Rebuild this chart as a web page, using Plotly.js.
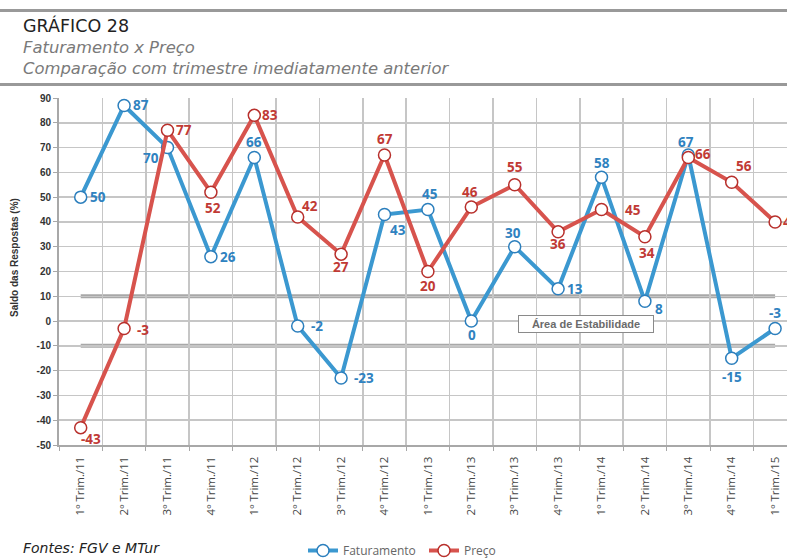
<!DOCTYPE html>
<html>
<head>
<meta charset="utf-8">
<script src="https://cdn.plot.ly/plotly-3.0.1.min.js"></script>
<style>
html,body{margin:0;padding:0;background:#fff;overflow:hidden;}
#chart{width:787px;height:558px;}
</style>
</head>
<body>
<div id="chart"></div>
<script>
// ---- data ----
var categories = ["1º Trim./11","2º Trim./11","3º Trim./11","4º Trim./11",
  "1º Trim./12","2º Trim./12","3º Trim./12","4º Trim./12",
  "1º Trim./13","2º Trim./13","3º Trim./13","4º Trim./13",
  "1º Trim./14","2º Trim./14","3º Trim./14","4º Trim./14",
  "1º Trim./15"];
var faturamento = [50, 87, 70, 26, 66, -2, -23, 43, 45, 0, 30, 13, 58, 8, 67, -15, -3];
var preco = [-43, -3, 77, 52, 83, 42, 27, 67, 20, 46, 55, 36, 45, 34, 66, 56, 40];
var stabilityBand = [10, -10];
var yTickValues = [-50, -40, -30, -20, -10, 0, 10, 20, 30, 40, 50, 60, 70, 80, 90];
var yTickLabels = ["-50","-40","-30","-20","-10","0","10","20","30","40","50","60","70","80","90"];

// ---- label offsets (pixels: dx right, dy down) ----
var fatOffsets = [[17,0],[17,0],[-17,10],[17,0],[0,-15],[19,0],[23,0],[13,16],[2,-16],[1,14],[-2,-14],[17,0],[0,-14],[14,8],[-2,-13],[0,19],[0,-16]];
var precoOffsets = [[10,11],[19,1],[16,0],[2,16],[16,0],[12,-11],[0,13],[0,-16],[0,14],[-1,-15],[0,-18],[0,12],[31,0],[2,16],[15,-3],[12,-16],[16,0]];

var W = 787, H = 558, ML = 59, MR = 0, MT = 98, MB = 113;
var PW = W - ML - MR, PH = H - MT - MB;
var catStep = 43.4;
function px(x){ return (x - ML) / PW; }
function py(y){ return (H - MB - y) / PH; }

var blue = '#3b98d0', blueDark = '#2c7fbd', blueText = '#2f82c0';
var red = '#d7534d', redDark = '#b8302c', redText = '#c13a35';

var traces = [
  {
    type:'scatter', mode:'lines+markers', name:'Faturamento',
    x: categories, y: faturamento,
    line:{color: blue, width:4},
    marker:{symbol:'circle', size:12, color:'#ffffff', line:{color: blueDark, width:1.5}},
    cliponaxis:false
  },
  {
    type:'scatter', mode:'lines+markers', name:'Preço',
    x: categories, y: preco,
    line:{color: red, width:4},
    marker:{symbol:'circle', size:12, color:'#ffffff', line:{color: redDark, width:1.5}},
    cliponaxis:false
  }
];

var annotations = [];
faturamento.forEach(function(v, i){
  annotations.push({x: categories[i], y: v, xref:'x', yref:'y', text: String(v), showarrow:false,
    xshift: fatOffsets[i][0], yshift: -fatOffsets[i][1], xanchor:'center', yanchor:'middle',
    font:{family:'Open Sans, Arial, sans-serif', size:13.5, color: blueText, weight:700}});
});
preco.forEach(function(v, i){
  annotations.push({x: categories[i], y: v, xref:'x', yref:'y', text: String(v), showarrow:false,
    xshift: precoOffsets[i][0], yshift: -precoOffsets[i][1], xanchor:'center', yanchor:'middle',
    font:{family:'Open Sans, Arial, sans-serif', size:13.5, color: redText, weight:700}});
});

var headFont = 'DejaVu Sans, Verdana, sans-serif';
annotations.push({xref:'paper', yref:'paper', x:px(21), y:py(26), xanchor:'left', yanchor:'middle', showarrow:false,
  text:'GRÁFICO 28', font:{family:headFont, size:17.5, color:'#222'}});
annotations.push({xref:'paper', yref:'paper', x:px(21), y:py(47), xanchor:'left', yanchor:'middle', showarrow:false,
  text:'<i>Faturamento x Preço</i>', font:{family:headFont, size:16.4, color:'#7a7a7a'}});
annotations.push({xref:'paper', yref:'paper', x:px(21), y:py(68), xanchor:'left', yanchor:'middle', showarrow:false,
  text:'<i>Comparação com trimestre imediatamente anterior</i>', font:{family:headFont, size:16.4, color:'#7a7a7a'}});
annotations.push({xref:'paper', yref:'paper', x:px(21), y:py(548), xanchor:'left', yanchor:'middle', showarrow:false,
  text:'<i>Fontes: FGV e MTur</i>', font:{family:headFont, size:14, color:'#222'}});
annotations.push({xref:'paper', yref:'paper', x:px(14), y:py(258), xanchor:'center', yanchor:'middle', showarrow:false,
  textangle:-90, text:'<b>Saldo das Respostas (%)</b>', font:{family:'Arial, Liberation Sans, sans-serif', size:10, color:'#333'}});
annotations.push({xref:'x', yref:'y', x:11.65, y:-1.1, xanchor:'center', yanchor:'middle', showarrow:false,
  text:'<b>Área de Estabilidade</b>', bgcolor:'#ffffff', bordercolor:'#8a8a8a', borderwidth:1, borderpad:2,
  width:130, font:{family:'Arial, Liberation Sans, sans-serif', size:11, color:'#6b6b6b'}});

var shapes = [
  {type:'line', xref:'paper', yref:'paper', x0:px(0), x1:px(787), y0:py(10.5), y1:py(10.5), line:{color:'#999', width:3}},
  {type:'line', xref:'paper', yref:'paper', x0:px(0), x1:px(787), y0:py(84.5), y1:py(84.5), line:{color:'#999', width:3}}
];
stabilityBand.forEach(function(v){
  shapes.push({type:'line', xref:'x', yref:'y', x0:0, x1:categories.length-1, y0:v, y1:v, layer:'below',
    line:{color:'#a8a8a8', width:4}});
});

var layout = {
  width: W, height: H,
  margin:{l:ML, r:MR, t:MT, b:MB, pad:0, autoexpand:false},
  paper_bgcolor:'#fff', plot_bgcolor:'#fff',
  showlegend:true,
  legend:{orientation:'h', x:px(303), y:py(536), xanchor:'left', yanchor:'top',
    font:{family:'Open Sans, sans-serif', size:12, color:'#666'}, itemwidth:30, entrywidth:76, traceorder:'normal'},
  xaxis:{
    type:'category', range:[-0.5, -0.5 + PW/catStep], tickson:'boundaries', automargin:false,
    showgrid:true, gridcolor:'#c6c6c6', gridwidth:1.5,
    showline:true, linecolor:'#a8a8a8', linewidth:2,
    ticks:'outside', ticklen:4, tickcolor:'#a8a8a8', ticklabelstandoff:5,
    tickangle:-90, tickfont:{family:'Open Sans, sans-serif', size:11.5, color:'#444'},
    fixedrange:true
  },
  yaxis:{
    range:[-50, 90], tickmode:'array', tickvals:yTickValues, ticktext:yTickLabels, automargin:false,
    showgrid:true, gridcolor:'#c6c6c6', gridwidth:1.5, zeroline:false,
    showline:true, linecolor:'#a8a8a8', linewidth:2,
    ticks:'outside', ticklen:4, tickcolor:'#a8a8a8',
    tickfont:{family:'Arial, Liberation Sans, sans-serif', size:10, color:'#333', weight:700},
    fixedrange:true
  },
  annotations: annotations,
  shapes: shapes
};

Plotly.newPlot('chart', traces, layout, {displayModeBar:false, staticPlot:true});
</script>
</body>
</html>
